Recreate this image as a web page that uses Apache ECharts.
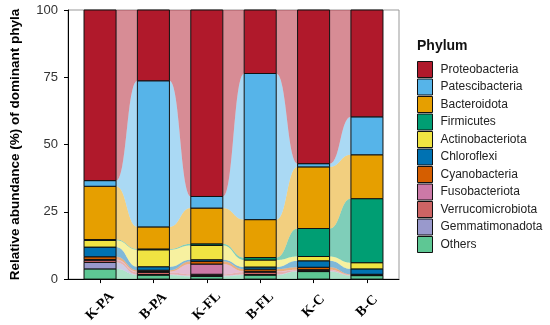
<!DOCTYPE html>
<html>
<head>
<meta charset="utf-8">
<script src="https://cdn.jsdelivr.net/npm/echarts@6/dist/echarts.min.js"></script>
<style>html,body{margin:0;padding:0;background:#fff}#c{width:550px;height:325px}</style>
</head>
<body>
<div id="c"></div>
<script>
var categories = ['K-PA', 'B-PA', 'K-FL', 'B-FL', 'K-C', 'B-C'];
var yTicks = [0, 25, 50, 75, 100];

var Proteobacteria    = [63.4, 26.3, 69.3, 23.6, 57.1, 39.7];
var Patescibacteria   = [2.1, 54.3, 4.3, 54.3, 1.2, 14.1];
var Bacteroidota      = [19.8, 8.2, 13.3, 14.1, 22.9, 16.3];
var Firmicutes        = [0.3, 0.3, 0.6, 0.9, 10.4, 23.8];
var Actinobacteriota  = [2.5, 6.3, 5.3, 2.6, 1.6, 2.3];
var Chloroflexi       = [3.6, 1.3, 0.6, 0.8, 2.4, 2.0];
var Cyanobacteria     = [1.0, 0.5, 1.0, 0.8, 0.9, 0.2];
var Fusobacteriota    = [0.3, 0.3, 3.8, 0.3, 0.2, 0.1];
var Verrucomicrobiota = [0.8, 0.8, 0.5, 0.9, 0.3, 0.1];
var Gemmatimonadota   = [2.4, 0.2, 0.3, 0.2, 0.2, 0.1];
var Others            = [3.8, 1.5, 1.0, 1.5, 2.8, 1.3];

var legendOrder = ['Proteobacteria','Patescibacteria','Bacteroidota','Firmicutes','Actinobacteriota','Chloroflexi','Cyanobacteria','Fusobacteriota','Verrucomicrobiota','Gemmatimonadota','Others'];
var colors = {
  Proteobacteria: '#B0192B', Patescibacteria: '#56B4E9', Bacteroidota: '#E69F00',
  Firmicutes: '#009E73', Actinobacteriota: '#F0E442', Chloroflexi: '#0072B2',
  Cyanobacteria: '#D55E00', Fusobacteriota: '#CC79A7', Verrucomicrobiota: '#CD6464',
  Gemmatimonadota: '#9999CC', Others: '#5EC794'
};
var values = {
  Proteobacteria: Proteobacteria, Patescibacteria: Patescibacteria, Bacteroidota: Bacteroidota,
  Firmicutes: Firmicutes, Actinobacteriota: Actinobacteriota, Chloroflexi: Chloroflexi,
  Cyanobacteria: Cyanobacteria, Fusobacteriota: Fusobacteriota, Verrucomicrobiota: Verrucomicrobiota,
  Gemmatimonadota: Gemmatimonadota, Others: Others
};
var stackOrder = legendOrder.slice().reverse();

var lower = [], upper = [];
for (var c = 0; c < categories.length; c++) {
  var acc = 0; lower.push([]); upper.push([]);
  for (var l = 0; l < stackOrder.length; l++) {
    lower[c].push(acc);
    acc += values[stackOrder[l]][c];
    upper[c].push(acc);
  }
}

var HALF = 0.3;

function bez(p0, p1, t) {
  var mx = (p0[0] + p1[0]) / 2;
  var c1 = [mx, p0[1]], c2 = [mx, p1[1]];
  var u = 1 - t;
  return [
    u*u*u*p0[0] + 3*u*u*t*c1[0] + 3*u*t*t*c2[0] + t*t*t*p1[0],
    u*u*u*p0[1] + 3*u*u*t*c1[1] + 3*u*t*t*c2[1] + t*t*t*p1[1]
  ];
}

var flowData = [];
for (var g = 0; g < categories.length - 1; g++) {
  for (var l2 = 0; l2 < stackOrder.length; l2++) flowData.push([g, l2]);
}

var series = [];
series.push({
  type: 'custom',
  name: 'flows',
  z: 1,
  clip: false,
  silent: true,
  data: flowData,
  renderItem: function (params, api) {
    var g = api.value(0), l = api.value(1);
    var x0 = g + 1 + HALF, x1 = g + 2 - HALF;
    var t0 = api.coord([x0, upper[g][l]]), t1 = api.coord([x1, upper[g+1][l]]);
    var b0 = api.coord([x0, lower[g][l]]), b1 = api.coord([x1, lower[g+1][l]]);
    var pts = [];
    var N = 40;
    for (var i = 0; i <= N; i++) pts.push(bez(t0, t1, i / N));
    for (var j = N; j >= 0; j--) pts.push(bez(b0, b1, j / N));
    return {
      type: 'polygon',
      shape: { points: pts },
      style: { fill: colors[stackOrder[l]], opacity: 0.5 }
    };
  }
});

stackOrder.forEach(function (name, li) {
  series.push({
    type: 'custom',
    name: name,
    z: 3,
    clip: false,
    itemStyle: { color: colors[name], borderColor: '#111', borderWidth: 1 },
    data: categories.map(function (cat, i) { return [i + 1, lower[i][li], upper[i][li]]; }),
    encode: { x: 0, y: [1, 2] },
    renderItem: function (params, api) {
      var x = api.value(0);
      var p0 = api.coord([x - HALF, api.value(2)]);
      var p1 = api.coord([x + HALF, api.value(1)]);
      return {
        type: 'rect',
        shape: { x: p0[0], y: p0[1], width: p1[0] - p0[0], height: p1[1] - p0[1] },
        style: { fill: colors[name], stroke: '#111', lineWidth: 1 }
      };
    }
  });
});

var chart = echarts.init(document.getElementById('c'), null, { renderer: 'canvas' });
chart.setOption({
  backgroundColor: '#fff',
  animation: false,
  title: {
    text: 'Phylum', left: 417, top: 39, padding: 0,
    textStyle: { fontFamily: 'Liberation Sans, Arial', fontSize: 14, fontWeight: 'bold', color: '#111' }
  },
  legend: {
    data: legendOrder,
    orient: 'vertical',
    left: 417, top: 61, padding: 0,
    itemWidth: 15, itemHeight: 16, itemGap: 0.5,
    icon: 'rect',
    itemStyle: { borderColor: '#111', borderWidth: 1 },
    textStyle: { fontFamily: 'Liberation Sans, Arial', fontSize: 12, lineHeight: 14, color: '#222', padding: [0, 0, 0, 3] },
    selectedMode: false
  },
  grid: {
    left: 66, top: 10, right: 151, bottom: 44,
    show: true, borderColor: '#999', borderWidth: 1, backgroundColor: '#fff'
  },
  xAxis: {
    type: 'value',
    min: 0.4, max: 6.6,
    splitLine: { show: false },
    axisLine: { show: true, onZero: false, lineStyle: { color: '#000', width: 1 } },
    axisTick: { show: true, length: 4, customValues: [1, 2, 3, 4, 5, 6], lineStyle: { color: '#000' } },
    axisLabel: {
      customValues: [1, 2, 3, 4, 5, 6],
      rotate: 45, margin: 27, align: 'center', verticalAlign: 'middle',
      fontFamily: 'Liberation Serif, Times New Roman', fontWeight: 'bold', fontSize: 14, color: '#000',
      formatter: function (v) { return categories[Math.round(v) - 1] || ''; }
    }
  },
  yAxis: {
    type: 'value',
    min: 0, max: 100, interval: 25,
    name: 'Relative abundance (%) of dominant phyla',
    nameLocation: 'middle', nameGap: 46,
    nameTextStyle: { fontFamily: 'Liberation Sans, Arial', fontSize: 13.5, fontWeight: 'bold', color: '#000' },
    splitLine: { show: false },
    axisLine: { show: true, lineStyle: { color: '#000', width: 1 } },
    axisTick: { show: true, length: 4, lineStyle: { color: '#000' } },
    axisLabel: {
      fontFamily: 'Liberation Sans, Arial', fontSize: 13, color: '#333', margin: 10,
      customValues: yTicks
    }
  },
  series: series
});
</script>
</body>
</html>
